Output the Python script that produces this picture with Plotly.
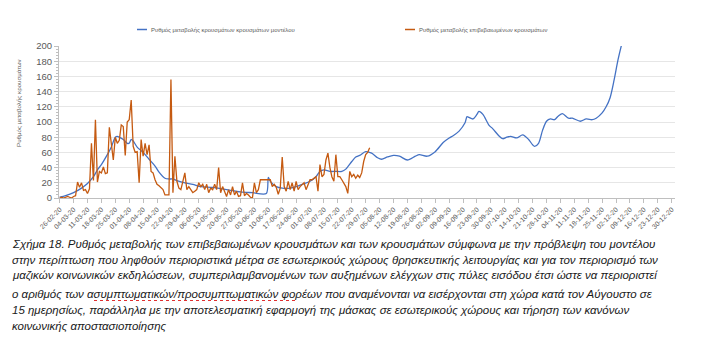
import plotly.graph_objects as go
import pandas as pd

# ---------------- data ----------------
start_date = "2020-02-26"

# confirmed-case rate of change (daily values from 26-02-20)
confirmed_values = [
    0, 1, 0, 1, 2, 1, 0, 2, 3, 21, 14, 20, 10, 11, 6, 12, 72, 23, 103, 21,
    35, 33, 41, 32, 33, 93, 74, 50, 80, 72, 76, 96, 94, 56, 100, 103, 129, 68, 60, 61,
    20, 77, 55, 72, 57, 70, 35, 33, 24, 18, 16, 13, 11, 4, 4, 4, 156, 7, 55, 22,
    13, 11, 22, 33, 11, 15, 11, 7, 9, 11, 20, 15, 18, 11, 18, 7, 13, 11, 18, 11,
    40, 7, 15, 7, 2, 11, 4, 15, 4, 9, 2, 3, 20, 3, 6, 4, 1, 0, 20, 7,
    11, 24, 24, 24, 24, 24, 24, 15, 18, 14, 5, 13, 54, 15, 9, 22, 11, 20, 9, 22,
    11, 15, 18, 20, 11, 18, 24, 24, 26, 28, 9, 44, 28, 31, 50, 59, 40, 28, 22, 57,
    28, 28, 24, 20, 15, 6, 35, 28, 31, 26, 30, 27, 33, 48, 57, 60, 66,
]

# model rate of change: day offsets from 26-02-20 and values
model_day_offsets = [
    0, 3, 7, 11, 14, 17, 19, 21, 24, 26, 28, 29, 30, 32, 34, 35, 36, 37, 39, 42,
    45, 48, 50, 53, 55, 57, 59, 63, 67, 71, 77, 84, 91, 97, 104, 105, 106, 109, 112, 116,
    119, 122, 126, 129, 131, 133, 136, 139, 142, 144, 147, 149, 151, 154, 157, 160, 162, 165, 168, 171,
    175, 179, 181, 185, 189, 193, 196, 198, 201, 204, 205, 206, 208, 210, 211, 213, 216, 218, 221, 223,
    225, 227, 230, 233, 236, 238, 239, 241, 243, 245, 247, 249, 251, 253, 256, 258, 262, 265, 268, 270,
    273, 275, 277, 279, 281, 283,
]
model_values = [
    1, 3, 7, 13, 19, 28, 37, 44, 57, 67, 80, 81, 80, 77, 72, 72, 77, 75, 67, 60,
    51, 42, 34, 26, 25, 25, 23, 20, 18, 15, 14, 11, 8, 7, 6, 27, 22, 15, 13, 13,
    15, 18, 22, 28, 35, 37, 35, 35, 35, 38, 48, 54, 56, 61, 59, 53, 51, 54, 56, 55,
    50, 55, 57, 55, 61, 73, 79, 82, 88, 99, 107, 106, 104, 110, 114, 110, 96, 91, 82, 78,
    80, 81, 79, 83, 77, 70, 68, 72, 89, 101, 104, 103, 108, 111, 105, 105, 101, 104, 103, 105,
    112, 120, 132, 155, 182, 204,
]

tick_labels = [
    "26-02-20", "04-03-20", "11-03-20", "18-03-20", "25-03-20", "01-04-20", "08-04-20",
    "15-04-20", "22-04-20", "29-04-20", "06-05-20", "13-05-20", "20-05-20", "27-05-20",
    "03-06-20", "10-06-20", "17-06-20", "24-06-20", "01-07-20", "08-07-20", "15-07-20",
    "22-07-20", "29-07-20", "05-08-20", "12-08-20", "19-08-20", "26-08-20", "02-09-20",
    "09-09-20", "16-09-20", "23-09-20", "30-09-20", "07-10-20", "14-10-20", "21-10-20",
    "28-10-20", "04-11-20", "11-11-20", "18-11-20", "25-11-20", "02-12-20", "09-12-20",
    "16-12-20", "23-12-20", "30-12-20",
]

legend_model = "Ρυθμός μεταβολής κρουσμάτων κρουσμάτων μοντέλου"
legend_confirmed = "Ρυθμός μεταβολής επιβεβαιωμένων κρουσμάτων"
y_title = "Ρυθμός μεταβολής κρουσμάτων"
caption_lines = [
    "Σχήμα 18. Ρυθμός μεταβολής των επιβεβαιωμένων κρουσμάτων και των κρουσμάτων σύμφωνα με την πρόβλεψη του μοντέλου",
    "στην περίπτωση που ληφθούν περιοριστικά μέτρα σε εσωτερικούς χώρους θρησκευτικής λειτουργίας και για τον περιορισμό των",
    "μαζικών κοινωνικών εκδηλώσεων, συμπεριλαμβανομένων των αυξημένων ελέγχων στις πύλες εισόδου έτσι ώστε να περιοριστεί",
    "ο αριθμός των ασυμπτωματικών/προσυμπτωματικών φορέων που αναμένονται να εισέρχονται στη χώρα κατά τον Αύγουστο σε",
    "15 ημερησίως, παράλληλα με την αποτελεσματική εφαρμογή της μάσκας σε εσωτερικούς χώρους και τήρηση των κανόνων",
    "κοινωνικής αποστασιοποίησης",
]

# ---------------- layout helpers ----------------
W, H = 717, 346
L, R, T, B = 59, 42, 46, 148
PW, PH = W - L - R, H - T - B


def px(x):
    return (x - L) / PW


def py(y):
    return (H - B - y) / PH


base = pd.Timestamp(start_date)
confirmed_dates = pd.date_range(base, periods=len(confirmed_values), freq="D")
model_dates = [base + pd.Timedelta(days=d) for d in model_day_offsets]
tick_vals = pd.date_range(base, periods=len(tick_labels), freq="7D")

BLUE = "#4472C4"
ORANGE = "#C55A11"
GREY = "#595959"

fig = go.Figure()
fig.add_trace(go.Scatter(
    x=model_dates, y=model_values, mode="lines",
    line=dict(color=BLUE, width=1.3, shape="spline", smoothing=0.8),
    name=legend_model, showlegend=False, hoverinfo="skip",
))
fig.add_trace(go.Scatter(
    x=confirmed_dates, y=confirmed_values, mode="lines",
    line=dict(color=ORANGE, width=1.3),
    name=legend_confirmed, showlegend=False, hoverinfo="skip",
))

annotations = []
shapes = []

# legend (manual)
for x0, label, col in [(137, legend_model, BLUE), (405, legend_confirmed, ORANGE)]:
    shapes.append(dict(type="line", xref="paper", yref="paper",
                       x0=px(x0), x1=px(x0 + 10), y0=py(29.5), y1=py(29.5),
                       line=dict(color=col, width=1.5)))
    annotations.append(dict(text=label, xref="paper", yref="paper",
                            x=px(x0 + 12), y=py(29.5), xanchor="left", yanchor="middle",
                            showarrow=False, font=dict(size=5.9, color=GREY, family="Liberation Sans")))

# y-axis title
annotations.append(dict(text=y_title, xref="paper", yref="paper", x=px(18), y=py(103),
                        textangle=-90, showarrow=False, xanchor="center", yanchor="middle",
                        font=dict(size=6.2, color=GREY, family="Liberation Sans")))

# caption
cap_y = [244, 259.5, 275.5, 294, 310, 326]
for yy, line in zip(cap_y, caption_lines):
    annotations.append(dict(text="<i>" + line + "</i>", xref="paper", yref="paper",
                            x=px(10), y=py(yy), xanchor="left", yanchor="middle",
                            showarrow=False,
                            font=dict(size=11.5, color="#1a1a1a", family="Liberation Sans")))

# spell-check underline under the long compound word of caption line 4
shapes.append(dict(type="line", xref="paper", yref="paper",
                   x0=px(94), x1=px(298), y0=py(cap_y[3] + 6.5), y1=py(cap_y[3] + 6.5),
                   line=dict(color="#E03030", width=1, dash="dot")))

fig.update_layout(
    width=W, height=H,
    margin=dict(l=L, r=R, t=T, b=B),
    paper_bgcolor="white", plot_bgcolor="white",
    showlegend=False,
    annotations=annotations, shapes=shapes,
    font=dict(family="Liberation Sans", color=GREY),
)
fig.update_xaxes(
    type="date",
    range=[pd.Timestamp("2020-02-25 16:00"), pd.Timestamp("2020-12-31 16:00")],
    tickmode="array", tickvals=tick_vals, ticktext=tick_labels,
    tickangle=-45, tickfont=dict(size=6.8, color=GREY),
    showline=True, linecolor="#BFBFBF", linewidth=1,
    ticks="outside", ticklen=4, tickcolor="#BFBFBF",
    showgrid=False, zeroline=False,
)
fig.update_yaxes(
    range=[0, 200], dtick=20, tick0=0,
    tickfont=dict(size=9.5, color=GREY),
    showline=True, linecolor="#BFBFBF", linewidth=1,
    ticks="outside", ticklen=4, tickcolor="#BFBFBF",
    minor=dict(dtick=4, ticks="outside", ticklen=2, tickcolor="#BFBFBF", showgrid=False),
    showgrid=True, gridcolor="#E6E6E6", gridwidth=1,
    zeroline=False,
)

fig.write_html("out.html")
